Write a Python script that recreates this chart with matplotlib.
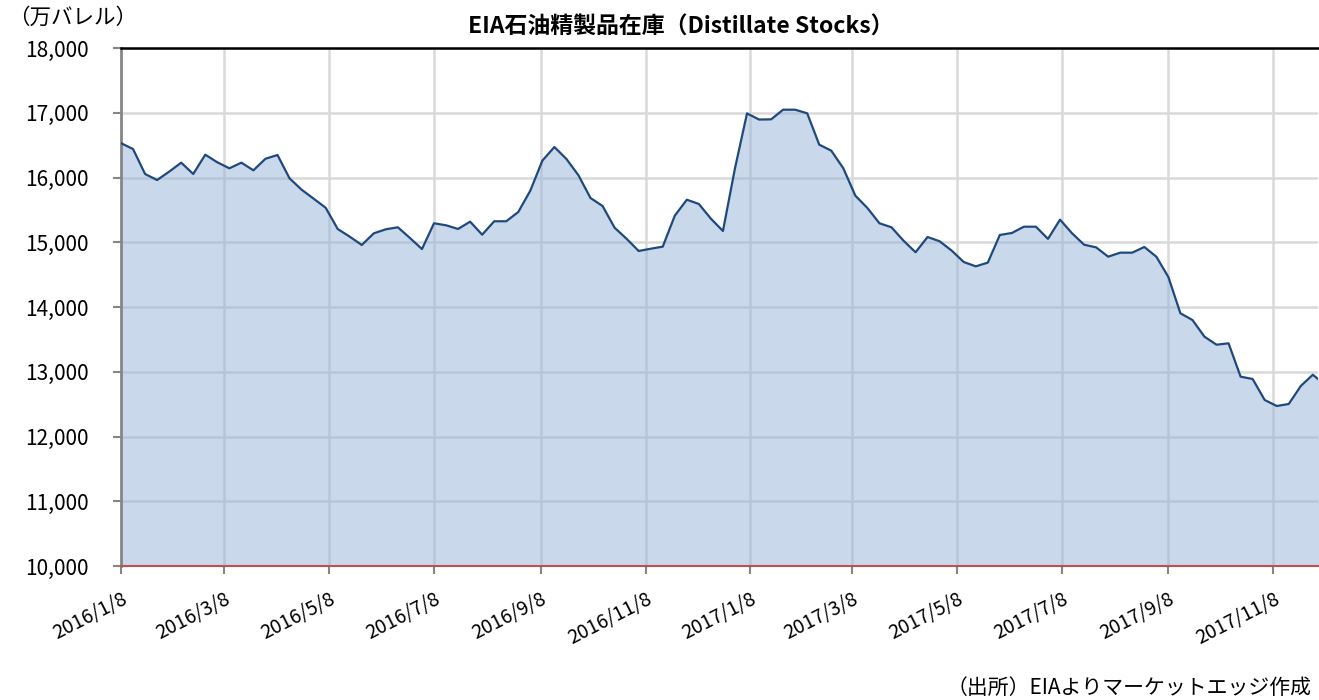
import matplotlib
matplotlib.use('Agg')
import matplotlib.pyplot as plt
import matplotlib.ticker as mticker
import numpy as np
import pandas as pd

plt.rcParams['font.family'] = ['Noto Sans CJK JP', 'DejaVu Sans']

# weekly distillate stocks (10k barrels), from 2016/1/8
start_date = '2016-01-08'
stocks = [
    16530, 16440, 16054, 15961, 16090, 16229, 16054, 16352, 16235, 16142,
    16229, 16111, 16290, 16347, 15987, 15812, 15673, 15533, 15205, 15086,
    14958, 15138, 15200, 15231, 15066, 14895, 15293, 15262, 15205, 15318,
    15117, 15324, 15324, 15467, 15797, 16260, 16471, 16286, 16034, 15683,
    15560, 15225, 15053, 14865, 14900, 14932, 15410, 15657, 15591, 15364,
    15174, 16142, 16990, 16895, 16898, 17047, 17047, 16991, 16507, 16414,
    16142, 15719, 15529, 15293, 15231, 15024, 14845, 15081, 15015, 14871,
    14695, 14628, 14685, 15112, 15143, 15240, 15240, 15052, 15349, 15138,
    14962, 14921, 14777, 14839, 14839, 14927, 14777, 14463, 13903, 13799,
    13541, 13418, 13439, 12924, 12888, 12564, 12471, 12502, 12780, 12954,
    12800,
]
dates = pd.date_range(start_date, periods=len(stocks), freq='7D')
tick_dates = pd.date_range('2016-01-01', periods=12, freq='2MS') + pd.Timedelta(days=7)
tick_labels = [f'{d.year}/{d.month}/{d.day}' for d in tick_dates]

fig = plt.figure(figsize=(13.19, 7.0), dpi=100)
ax = fig.add_axes([121 / 1319, 1 - 566 / 700, 1197 / 1319, 518 / 700])

ax.fill_between(dates, stocks, 10000, color='#95B3D7', alpha=0.5, lw=0, zorder=2)
ax.plot(dates, stocks, color='#1F497D', lw=1.6, zorder=3)

ax.set_xlim(pd.Timestamp('2016-01-08'), pd.Timestamp('2017-12-04'))
ax.set_ylim(10000, 18000)
ax.set_yticks(np.arange(10000, 18001, 1000))
ax.yaxis.set_major_formatter(mticker.StrMethodFormatter('{x:,.0f}'))
ax.set_xticks(tick_dates)
ax.set_xticklabels(tick_labels, rotation=27, ha='right', rotation_mode='anchor')

ax.grid(True, color='#D9D9D9', lw=1.8, zorder=1)
ax.set_axisbelow(True)
ax.tick_params(axis='both', colors='#868686', length=6, width=1.5, labelsize=15,
               labelcolor='black')
ax.tick_params(axis='y', pad=17)
ax.tick_params(axis='x', pad=10, labelsize=14)

ax.spines['left'].set_color('#868686')
ax.spines['left'].set_linewidth(2)
ax.spines['bottom'].set_color('#C0504D')
ax.spines['bottom'].set_linewidth(1.5)
ax.spines['bottom'].set_zorder(4)
ax.spines['top'].set_color('black')
ax.spines['top'].set_linewidth(1.8)
ax.spines['right'].set_visible(False)

fig.text(681 / 1319, 1 - 27 / 700, 'EIA石油精製品在庫（Distillate Stocks）',
         ha='center', va='center', fontsize=16.5, fontweight='bold')
fig.text(8 / 1319, 1 - 18 / 700, '（万バレル）', ha='left', va='center', fontsize=15.5)
fig.text(1312 / 1319, 1 - 688 / 700, '（出所）EIAよりマーケットエッジ作成',
         ha='right', va='center', fontsize=15)

fig.savefig('out.png', dpi=100)
